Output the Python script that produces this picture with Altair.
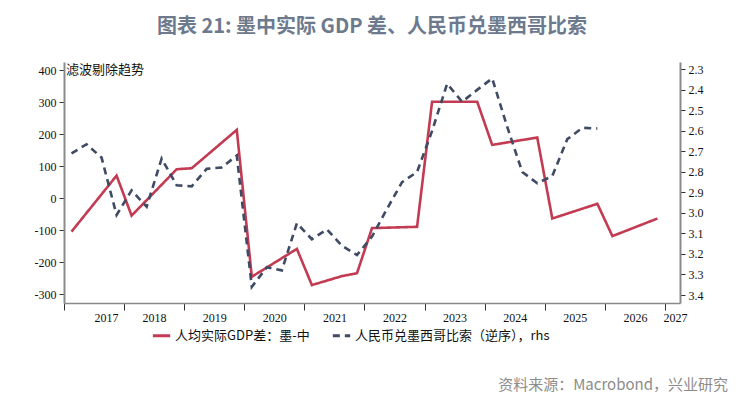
import altair as alt
import pandas as pd

# ---- data ----
gdp_quarters = ["2017Q1", "2017Q4", "2018Q1", "2018Q4", "2019Q1", "2019Q4",
                "2020Q1", "2020Q4", "2021Q1", "2021Q3", "2021Q4", "2022Q1", "2022Q4",
                "2023Q1", "2023Q4", "2024Q1", "2024Q4", "2025Q1", "2025Q4",
                "2026Q1", "2026Q4"]
gdp_values = [-105, 70, -55, 90, 93, 213,
              -246, -159, -272, -244, -235, -94, -90,
              301, 301, 166, 189, -64, -18,
              -119, -64]

fx_quarters = [f"{y}Q{q}" for y in range(2017, 2026) for q in range(1, 5)]
fx_values = [2.71, 2.665, 2.73, 3.01,
             2.89, 2.97, 2.735, 2.865,
             2.87, 2.785, 2.778, 2.72,
             3.36, 3.265, 3.28, 3.05,
             3.128, 3.08, 3.16, 3.205,
             3.115, 2.98, 2.85, 2.80,
             2.60, 2.37, 2.458, 2.40,
             2.344, 2.58, 2.80, 2.855,
             2.82, 2.64, 2.585, 2.588]

series_names = ["人均实际GDP差：墨-中", "人民币兑墨西哥比索（逆序），rhs"]
left_ticks = [-300, -200, -100, 0, 100, 200, 300, 400]
right_ticks = [2.3, 2.4, 2.5, 2.6, 2.7, 2.8, 2.9, 3.0, 3.1, 3.2, 3.3, 3.4]
year_ticks = list(range(2017, 2028))

title_text = "图表 21: 墨中实际 GDP 差、人民币兑墨西哥比索"
note_text = "滤波剔除趋势"
source_text = "资料来源：Macrobond，兴业研究"


def qpos(q):
    return int(q[:4]) + (int(q[-1]) - 0.5) / 4.0


df_gdp = pd.DataFrame({"t": [qpos(q) for q in gdp_quarters], "v": gdp_values,
                       "s": series_names[0]})
df_fx = pd.DataFrame({"t": [qpos(q) for q in fx_quarters], "v": fx_values,
                      "s": series_names[1]})

RED = "#c23b52"
NAVY = "#3f4a64"
AXIS_GREY = "#8a8a8a"
SERIF = "Liberation Serif"
CJK = "Noto Sans CJK SC"

color_scale = alt.Scale(domain=series_names, range=[RED, NAVY])
dash_scale = alt.Scale(domain=series_names, range=[[1, 0], [7, 5]])

x_enc = alt.X("t:Q", title=None,
              scale=alt.Scale(domain=[2017, 2027.25], nice=False, zero=False),
              axis=alt.Axis(values=year_ticks, labelExpr="toString(datum.value)",
                            grid=False, tickSize=7, tickColor="#333", domainColor=AXIS_GREY,
                            domainWidth=1.5, labelFont=SERIF, labelFontSize=12,
                            labelColor="#111", labelPadding=2,
                            labelOffset={"condition": {"test": "datum.value == 2027", "value": 10},
                                         "value": 30}))

legend = alt.Legend(title=None, orient="none", legendX=87, legendY=263,
                    direction="horizontal", symbolType="stroke", symbolStrokeWidth=3,
                    symbolSize=300, labelFont=CJK, labelFontSize=13, labelColor="#111",
                    columnPadding=16, labelOffset=3, labelLimit=0)

red = alt.Chart(df_gdp).mark_line(strokeWidth=2.6).encode(
    x=x_enc,
    y=alt.Y("v:Q", title=None,
            scale=alt.Scale(domain=[-328, 425], nice=False, zero=False),
            axis=alt.Axis(orient="left", values=left_ticks, labelExpr="toString(datum.value)",
                          grid=False, tickSize=5, tickColor="#333", domainColor=AXIS_GREY,
                          domainWidth=2, labelFont=SERIF, labelFontSize=12,
                          labelColor="#111", labelPadding=3)),
    color=alt.Color("s:N", scale=color_scale, legend=legend),
    strokeDash=alt.StrokeDash("s:N", scale=dash_scale, legend=legend),
)

fx = alt.Chart(df_fx).mark_line(strokeWidth=2.6).encode(
    x=x_enc,
    y=alt.Y("v:Q", title=None,
            scale=alt.Scale(domain=[2.264, 3.439], reverse=True, nice=False, zero=False),
            axis=alt.Axis(orient="right", values=right_ticks, format=".1f",
                          grid=False, tickSize=5, tickColor="#333", domainColor=AXIS_GREY,
                          domainWidth=2, labelFont=SERIF, labelFontSize=12,
                          labelColor="#111", labelPadding=3)),
    color=alt.Color("s:N", scale=color_scale, legend=legend),
    strokeDash=alt.StrokeDash("s:N", scale=dash_scale, legend=legend),
)

note = alt.Chart(pd.DataFrame({"txt": [note_text]})).mark_text(
    align="left", baseline="middle", font=CJK, fontSize=13, color="#111"
).encode(text="txt:N", x=alt.value(2), y=alt.value(8))

source = alt.Chart(pd.DataFrame({"txt": [source_text]})).mark_text(
    align="right", baseline="middle", font=CJK, fontSize=15, color="#8c8c8c"
).encode(text="txt:N", x=alt.value(664), y=alt.value(323))

chart = alt.layer(red, fx, note, source).resolve_scale(y="independent").properties(
    width=616, height=241,
    autosize=alt.AutoSizeParams(type="none"),
    padding={"left": 56, "top": 54, "right": 62, "bottom": 90},
    title=alt.TitleParams(title_text, font=CJK, fontSize=20, fontWeight="bold",
                          color="#6d7a8d", anchor="middle", offset=25),
).configure_view(stroke=None)

chart.save("out.html", embed_options={"renderer": "svg", "actions": False})
